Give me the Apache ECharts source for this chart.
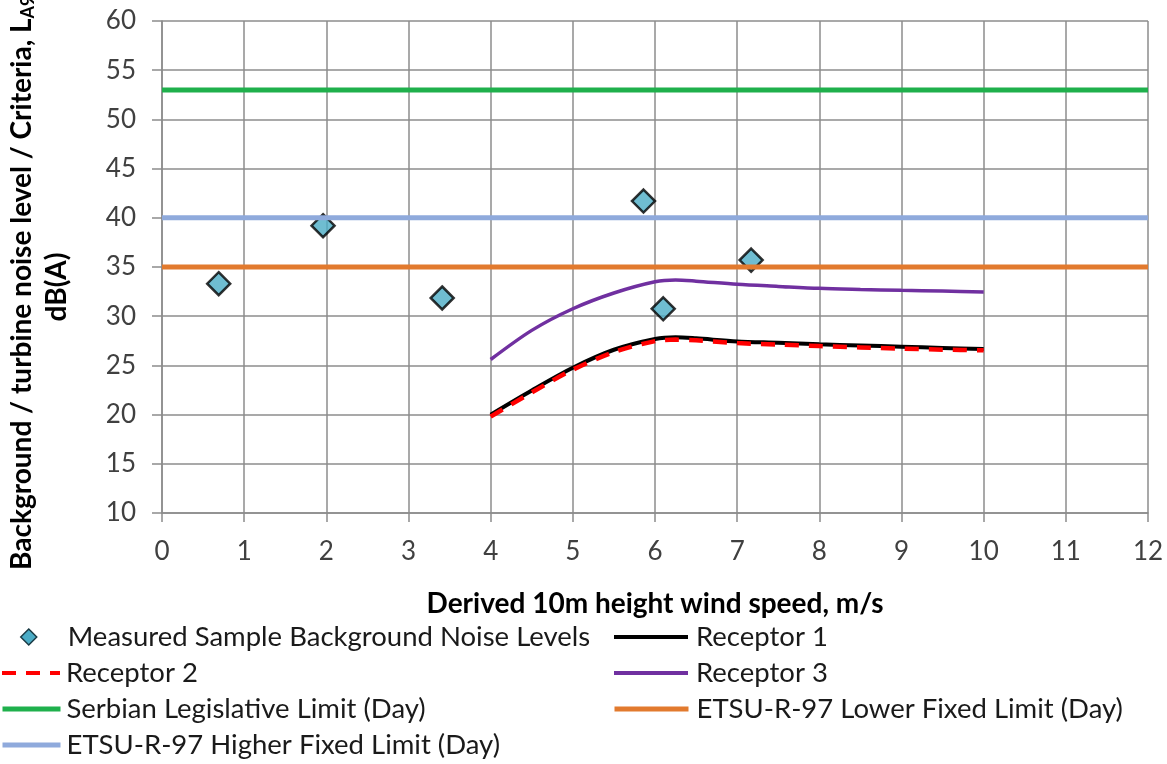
<!DOCTYPE html>
<html>
<head>
<meta charset="utf-8">
<script src="https://cdn.jsdelivr.net/npm/echarts@6/dist/echarts.min.js"></script>
<style>
  html, body { margin: 0; padding: 0; background: #ffffff; }
  #chart { width: 1167px; height: 764px; }
</style>
</head>
<body>
<div id="chart"></div>
<script>
// Measured background samples: wind speed (m/s) and level dB(A)
const sampleSpeed = [0.69, 1.96, 3.41, 5.86, 6.1, 7.17];
const sampleLevel = [33.3, 39.2, 31.85, 41.7, 30.75, 35.7];

// Predicted turbine noise at each receptor
const predSpeed = [4, 4.5, 5, 5.5, 6, 6.25, 6.5, 7, 7.5, 8, 8.5, 9, 9.5, 10];
const receptor1 = [20.0, 22.46, 24.76, 26.59, 27.68, 27.86, 27.75, 27.44, 27.3, 27.14, 27.02, 26.9, 26.78, 26.66];
const receptor2 = [19.8, 22.25, 24.56, 26.35, 27.47, 27.62, 27.55, 27.27, 27.12, 26.97, 26.83, 26.7, 26.6, 26.53];
const receptor3 = [25.6, 28.56, 30.76, 32.36, 33.5, 33.68, 33.56, 33.24, 33.03, 32.83, 32.72, 32.63, 32.55, 32.46];

// Fixed limits across the full wind speed range
const limitSpeed = [0, 12];
const serbianDay = 53;
const etsuLowerDay = 35;
const etsuHigherDay = 40;

const seriesNames = [
  'Measured Sample Background Noise Levels',
  'Receptor 1',
  'Receptor 2',
  'Receptor 3',
  'Serbian Legislative Limit (Day)',
  'ETSU-R-97 Lower Fixed Limit (Day)',
  'ETSU-R-97 Higher Fixed Limit (Day)'
];

const FONT = 'Lato';
const pairs = (xs, ys) => xs.map((x, i) => [x, ys[i]]);
const flat = (xs, v) => xs.map(x => [x, v]);

// One legend entry per row, two columns under the plot
function legendEntry(name, left, rowCenter, iconWidth, lineWidth, textGap, extra) {
  return Object.assign({
    orient: 'horizontal', left: left, top: rowCenter - 16, padding: 0,
    itemWidth: iconWidth, itemHeight: 16,
    textStyle: { fontFamily: FONT, fontSize: 27.5, color: '#1a1a1a', lineHeight: 32, padding: [0, 0, 0, textGap] },
    lineStyle: { width: lineWidth },
    itemStyle: { opacity: 0 },
    data: [name]
  }, extra || {});
}

const chart = echarts.init(document.getElementById('chart'), null, { renderer: 'canvas' });

chart.setOption({
  animation: false,
  backgroundColor: '#ffffff',
  grid: { left: 162, right: 19, top: 21, bottom: 251, containLabel: false },
  xAxis: {
    type: 'value', min: 0, max: 12, interval: 1,
    axisLine: { show: true, lineStyle: { color: '#8c8c8c', width: 1.5 } },
    axisTick: { show: true, length: 9, lineStyle: { color: '#8c8c8c', width: 1.5 } },
    axisLabel: { margin: 26, fontFamily: FONT, fontSize: 26, color: '#404040' },
    splitLine: { show: true, lineStyle: { color: '#8c8c8c', width: 1.5 } }
  },
  yAxis: {
    type: 'value', min: 10, max: 60, interval: 5,
    axisLine: { show: true, lineStyle: { color: '#8c8c8c', width: 1.5 } },
    axisTick: { show: true, length: 10, lineStyle: { color: '#8c8c8c', width: 1.5 } },
    axisLabel: { margin: 26, fontFamily: FONT, fontSize: 26, color: '#404040' },
    splitLine: { show: true, lineStyle: { color: '#8c8c8c', width: 1.5 } }
  },
  legend: [
    legendEntry(seriesNames[0], 20, 637, 58, 0, 5, {
      icon: 'path://M0,-1L1,0L0,1L-1,0Z', symbolKeepAspect: true,
      itemStyle: { opacity: 1, borderWidth: 1.5, borderColor: '#1a3a44' }
    }),
    legendEntry(seriesNames[2], 0, 673, 58, 4, 1),
    legendEntry(seriesNames[4], 0, 709, 58, 5, 1),
    legendEntry(seriesNames[6], 0, 745, 58, 5, 1),
    legendEntry(seriesNames[1], 612, 637, 74, 4, 3),
    legendEntry(seriesNames[3], 612, 673, 74, 4, 3),
    legendEntry(seriesNames[5], 612, 709, 74, 5, 3)
  ],
  graphic: [
    {
      type: 'text', x: 655, y: 604,
      style: {
        text: 'Derived 10m height wind speed, m/s',
        fontFamily: FONT, fontSize: 28, fontWeight: 'bold', fill: '#000000',
        align: 'center', verticalAlign: 'middle'
      }
    },
    {
      type: 'text', x: 22, y: 570, rotation: Math.PI / 2,
      style: {
        text: '{m|Background / turbine noise level / Criteria, L}{s|A90}',
        align: 'left', verticalAlign: 'middle',
        rich: {
          m: { fontFamily: FONT, fontSize: 28, fontWeight: 'bold', fill: '#000000' },
          s: { fontFamily: FONT, fontSize: 18, fontWeight: 'bold', fill: '#000000', verticalAlign: 'bottom', padding: [13, 0, 0, 0] }
        }
      }
    },
    {
      type: 'text', x: 57, y: 287, rotation: Math.PI / 2,
      style: {
        text: 'dB(A)',
        fontFamily: FONT, fontSize: 28, fontWeight: 'bold', fill: '#000000',
        align: 'center', verticalAlign: 'middle'
      }
    }
  ],
  series: [
    {
      name: seriesNames[0], type: 'scatter',
      data: pairs(sampleSpeed, sampleLevel),
      symbol: 'diamond', symbolSize: 23,
      itemStyle: { color: '#4bacc6', borderColor: '#000000', borderWidth: 2.5 }
    },
    {
      name: seriesNames[1], type: 'line', data: pairs(predSpeed, receptor1),
      smooth: 0.3, showSymbol: false, symbol: 'none',
      lineStyle: { color: '#000000', width: 4 }, itemStyle: { color: '#000000' }
    },
    {
      name: seriesNames[2], type: 'line', data: pairs(predSpeed, receptor2),
      smooth: 0.3, showSymbol: false, symbol: 'none',
      lineStyle: { color: '#ff0000', width: 4.5, type: [14, 10] }, itemStyle: { color: '#ff0000' }
    },
    {
      name: seriesNames[3], type: 'line', data: pairs(predSpeed, receptor3),
      smooth: 0.3, showSymbol: false, symbol: 'none',
      lineStyle: { color: '#7030a0', width: 3.5 }, itemStyle: { color: '#7030a0' }
    },
    {
      name: seriesNames[4], type: 'line', data: flat(limitSpeed, serbianDay),
      showSymbol: false, symbol: 'none',
      lineStyle: { color: '#1fb04c', width: 5 }, itemStyle: { color: '#1fb04c' }
    },
    {
      name: seriesNames[5], type: 'line', data: flat(limitSpeed, etsuLowerDay),
      showSymbol: false, symbol: 'none',
      lineStyle: { color: '#e27a2e', width: 5 }, itemStyle: { color: '#e27a2e' }
    },
    {
      name: seriesNames[6], type: 'line', data: flat(limitSpeed, etsuHigherDay),
      showSymbol: false, symbol: 'none',
      lineStyle: { color: '#8faadc', width: 5 }, itemStyle: { color: '#8faadc' }
    }
  ]
});
</script>
</body>
</html>
